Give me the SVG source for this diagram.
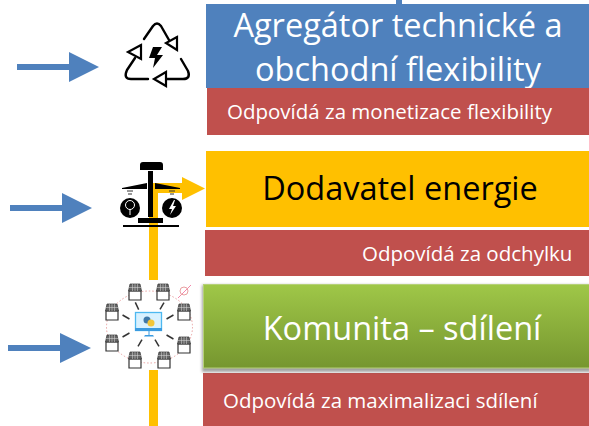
<svg xmlns="http://www.w3.org/2000/svg" width="589" height="426" viewBox="0 0 589 426">
<defs>
<linearGradient id="g" x1="0" y1="0" x2="0" y2="1"><stop offset="0" stop-color="#9fc748"/><stop offset="1" stop-color="#76962f"/></linearGradient>
<filter id="sh" x="-3%" y="-10%" width="106%" height="125%"><feGaussianBlur stdDeviation="1.500"/></filter>
<g id="shop"><path d="M-6 -1h12v9h-12z" fill="#fff" stroke="#333" stroke-width="1.200"/><path d="M-5 -8h10l1.500 7h-13z" fill="#666" stroke="#333" stroke-width="0.700"/><path d="M-2.500 -8v7M0 -8v7M2.500 -8v7M-6 -4.500h12" stroke="#ddd" stroke-width="0.500" fill="none"/></g>
<path id="dart" d="M-4 0h8" stroke="#333" stroke-width="1.500" fill="none"/>
</defs>
<style>
text{font-family:"Open Sans","Noto Sans",sans-serif}
.big{font-size:32.500px;fill:#fff;text-anchor:middle}
.sm{font-size:20.500px;fill:#fff}
.blue{fill:#4f81bd}
.red{fill:#c0504d}
.y{fill:#ffc000}
.ic{fill:none;stroke:#000;stroke-width:2.400;stroke-linecap:round;stroke-linejoin:round}
.tri{fill:#fff;stroke:#000;stroke-width:2.200}
.pink{fill:none;stroke:#e9a0a0;stroke-width:1;stroke-dasharray:1.500 2}
</style>
<g id="connectors">
<path class="y" d="M149 183h33v-6l23 11.500-23 11.500v-7h-24v87h-9zM149 370h9v56h-9z"/>
<path class="blue" d="M396 0h6v4h-6z"/>
<path class="blue" d="M17 64h52v-12l30 15-30 15v-12h-52z"/>
<path class="blue" d="M10 205h52v-12l30 15-30 15v-12h-52z"/>
<path class="blue" d="M8 345h52v-12l31 15-31 15v-12h-52z"/>
</g>
<g id="recycle-icon">
<path class="ic" d="M144 39l9-13q4-5 8 0l8 14M135 58l-8 12q-4 9 4 9h17M181 59l7 12q3 8-5 8h-17"/>
<path class="tri" d="M177 37l-11 6 11 7zM141 45l-13 7 13 7zM166 72l-12 7 12 7z"/>
<path d="M153 47h9l-5 8h6l-10 13 2-10h-6z" fill="#000"/>
</g>
<g id="scale-icon">
<path d="M140 170v-5q0-3 3-3h17q3 0 3 3v5z M148 171h5v46h-5z M122 188l25-5v6h-25z M155 183l25 5v1h-25z M138 218h25v5h-25z M123 225h56v2h-56z" fill="#000"/>
<circle cx="130" cy="208" r="10" fill="#000"/><circle cx="172" cy="208" r="10" fill="#000"/>
<circle cx="130" cy="205" r="4.500" fill="none" stroke="#fff" stroke-width="1"/><path d="M130 209v6" stroke="#fff" stroke-width="1"/>
<path d="M174 200l-5 9h3l-2 6 6-9h-3l2-6z" fill="#fff"/>
<path d="M127 191h6M128 194h4M169 191h6M170 194h4" stroke="#333" stroke-width="1"/>
</g>
<g id="community-icon">
<ellipse cx="149.500" cy="327" rx="43" ry="36" class="pink"/>
<path d="M178 298l13-13" stroke="#e58" stroke-width=".7" fill="none"/><circle cx="184" cy="291" r="4" fill="none" stroke="#e9a0a0"/>
<rect x="135.500" y="312.500" width="26" height="18" fill="#d8f1ff" stroke="#4db8f0" stroke-width="1.300"/>
<path d="M135 328h27v3h-27zM145 335h8l1 1.500h-10z" fill="#3a9be0"/><path d="M149 331v5" stroke="#3a9be0"/>
<circle cx="147" cy="320" r="3.500" fill="#3f78a8"/><circle cx="151" cy="323" r="3.500" fill="#f2c63a"/>
<use href="#shop" x="135" y="292"/><use href="#shop" x="163" y="292"/>
<use href="#shop" x="112" y="312"/><use href="#shop" x="184" y="312"/>
<use href="#shop" x="112" y="343"/><use href="#shop" x="184" y="345"/>
<use href="#shop" x="135" y="360"/><use href="#shop" x="164" y="360"/>
<use href="#dart" transform="translate(137 306) rotate(65)"/><use href="#dart" transform="translate(162 306) rotate(-60)"/>
<use href="#dart" transform="translate(126 317) rotate(30)"/><use href="#dart" transform="translate(170 317) rotate(-30)"/>
<use href="#dart" transform="translate(126 335) rotate(-30)"/><use href="#dart" transform="translate(170 337) rotate(30)"/>
<use href="#dart" transform="translate(140 343) rotate(-60)"/><use href="#dart" transform="translate(157 343) rotate(60)"/>
</g>
<g id="aggregator">
<rect class="blue" x="206" y="4" width="383" height="84"/>
<text class="big" x="398" y="37">Agregátor technické a</text>
<text class="big" x="398" y="81">obchodní flexibility</text>
</g>
<g id="aggregator-note">
<rect class="red" x="207" y="88" width="382" height="47"/>
<text class="sm" x="227" y="119">Odpovídá za monetizace flexibility</text>
</g>
<g id="supplier">
<rect class="y" x="206" y="151" width="383" height="76"/>
<text x="400" y="200" font-size="32.500" fill="#000" text-anchor="middle">Dodavatel energie</text>
</g>
<g id="supplier-note">
<rect class="red" x="205" y="230" width="384" height="46"/>
<text class="sm" x="362" y="261">Odpovídá za odchylku</text>
</g>
<g id="community-note">
<rect class="red" x="203" y="373" width="386" height="53"/>
<text class="sm" x="223" y="408">Odpovídá za maximalizaci sdílení</text>
</g>
<g id="community">
<rect x="202" y="285" width="389" height="87" fill="#555" opacity=".55" filter="url(#sh)"/>
<rect x="203.500" y="284.500" width="387" height="83.500" fill="url(#g)" stroke="#b5d077"/>
<text class="big" x="402" y="340">Komunita – sdílení</text>
</g>
</svg>
